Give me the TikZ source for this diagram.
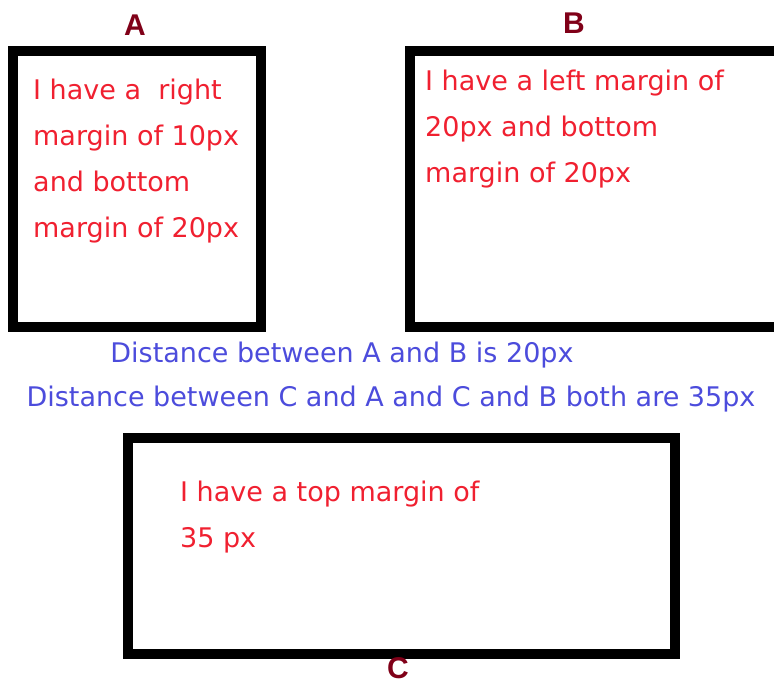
\documentclass[tikz,border=0pt]{standalone}
\usepackage{fontspec}
\setmainfont{DejaVu Sans}
\newfontfamily\labelfont{Liberation Sans}
\usepackage{xcolor}
\usetikzlibrary{positioning}
\definecolor{notered}{RGB}{240, 32, 48}
\definecolor{noteblue}{RGB}{76, 76, 220}
\definecolor{labeldark}{RGB}{128, 0, 24}

\begin{document}
\begin{tikzpicture}[x=1pt, y=1pt,
    marginbox/.style={draw, line width=10pt, minimum width=#1, inner sep=0pt},
    boxlabel/.style={font=\labelfont\bfseries\fontsize{30}{30}\selectfont, text=labeldark, inner sep=0pt},
    boxnote/.style={font=\fontsize{27}{46}\selectfont, text=notered, align=left, anchor=north west, inner sep=0pt},
    distnote/.style={font=\fontsize{27}{30}\selectfont, text=noteblue, inner sep=0pt, anchor=base}]
        \useasboundingbox (0, 0) rectangle (774, 686);
        % Box A
        \node[marginbox=248pt, minimum height=276pt] (boxA) at (137, 497) {};
        \node[boxlabel] (labA) at (135, 661) {A};
        \node[boxnote] (noteA) at (33, 607) {I have a\ \ right\\margin of 10px\\and bottom\\margin of 20px};
        % Box B (runs past the right edge)
        \node[marginbox=370pt, minimum height=276pt] (boxB) at (595, 497) {};
        \node[boxlabel] (labB) at (574, 663) {B};
        \node[boxnote] (noteB) at (425, 616) {I have a left margin of\\20px and bottom\\margin of 20px};
        % Distances
        \node[distnote] (distAB) at (342, 323) {Distance between A and B is 20px};
        \node[distnote] (distC) at (391, 279) {Distance between C and A and C and B both are 35px};
        % Box C
        \node[marginbox=547pt, minimum height=216pt] (boxC) at (401.5, 140) {};
        \node[boxlabel] (labC) at (398, 18) {C};
        \node[boxnote] (noteC) at (180, 205) {I have a top margin of\\35 px};
\end{tikzpicture}
\end{document}
